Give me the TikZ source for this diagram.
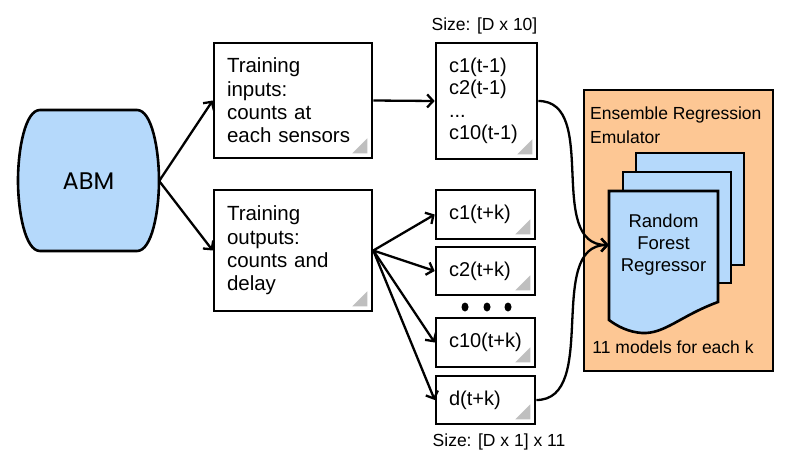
\documentclass[tikz,border=0pt]{standalone}
\usepackage{fontspec}
\setmainfont{Liberation Sans}
\newfontfamily\abmfont{Poppins}
\usetikzlibrary{arrows.meta,calc}
\definecolor{abmblue}{HTML}{B5D9FB}
\definecolor{emupeach}{HTML}{FDC794}
\definecolor{eargray}{HTML}{BFBFBF}
\tikzset{
  box/.style={draw, line width=2.6pt, fill=white, inner xsep=13pt, inner ysep=0pt, align=left},
  doc/.style={draw, line width=2.6pt, fill=abmblue, line join=miter},
  conn/.style={line width=2.3pt, -{Straight Barb[length=6pt,width=13pt]}},
  small/.style={font=\fontsize{17.5}{24}\selectfont},
}
\newcommand\dogear[1]{\fill[eargray] ($(#1.south east)+(-6,-6)$) -- ++(-15,0) -- ++(15,-15) -- cycle;}
\begin{document}
\begin{tikzpicture}[yscale=-1, x=1pt, y=1pt]
  \useasboundingbox (0,0) rectangle (792,467);
  \draw[doc] (40,110) -- (137,110) .. controls (152,110) and (159,150) .. (159,180.5)
    .. controls (159,211) and (152,251) .. (137,251) -- (40,251)
    .. controls (25,251) and (18,211) .. (18,180.5) .. controls (18,150) and (25,110) .. (40,110) -- cycle;
  \node[minimum width=141pt, minimum height=141pt, font=\abmfont\fontsize{24}{24}\selectfont] (abm) at (88.5,181) {ABM};
  \node[box, minimum width=158pt, minimum height=115pt, text width=132pt, font=\fontsize{20.5}{23.3}\selectfont] (inputs) at (293,100.5) {Training\\inputs:\\counts at\\each sensors};
  \node[box, minimum width=158pt, minimum height=121pt, text width=132pt, font=\fontsize{20.5}{23.3}\selectfont] (outputs) at (293,250.5) {Training\\outputs:\\counts and\\delay};
  \node[small] (sizein) at (484.5,26) {Size: [D x 10]};
  \node[box, minimum width=101pt, minimum height=116pt, text width=75pt, font=\fontsize{20}{22.5}\selectfont] (cin) at (486.5,101) {c1(t-1)\\c2(t-1)\\...\\c10(t-1)};
  \node[box, minimum width=99pt, minimum height=49pt, text width=73pt, font=\fontsize{20}{22.5}\selectfont] (c1) at (485.5,214.5) {c1(t+k)};
  \node[box, minimum width=99pt, minimum height=48pt, text width=73pt, font=\fontsize{20}{22.5}\selectfont] (c2) at (485.5,271) {c2(t+k)};
  \node[box, minimum width=99pt, minimum height=49pt, text width=73pt, font=\fontsize{20}{22.5}\selectfont] (c10) at (485.5,342.5) {c10(t+k)};
  \node[box, minimum width=99pt, minimum height=48pt, text width=73pt, font=\fontsize{20}{22.5}\selectfont] (d) at (485.5,400) {d(t+k)};
  \node[small] (sizeout) at (499,442) {Size: [D x 1] x 11};
  \foreach \x in {465,487,508} \fill (\x,307) ellipse (3.5 and 4.5);
  \foreach \n in {inputs,outputs,cin,c1,c2,c10,d} \dogear{\n};
  \draw[line width=2.6pt, fill=emupeach] (584,90) rectangle (773,371);
  \node[small, anchor=west, align=left, inner sep=0pt] (emu) at (590,125) {Ensemble Regression\\Emulator};
  \draw[doc] (636,153) rectangle (744,265);
  \draw[doc] (623,172) rectangle (731,283);
  \draw[doc] (609,191) -- (718,191) -- (718,302) .. controls (680,316) and (665,334) .. (642,333)
    .. controls (628,332) and (617,326) .. (609,320) -- cycle;
  \node[align=center, minimum width=109pt, inner sep=0pt, font=\fontsize{18.5}{22}\selectfont] (rf) at (663.5,245) {Random\\Forest\\Regressor};
  \node[small] (models) at (673,347) {11 models for each k};
  \draw[conn] (abm.east) -- (inputs.west);
  \draw[conn] (abm.east) -- (outputs.west);
  \draw[conn] (inputs.east) -- (cin.west);
  \foreach \n in {c1,c2,c10,d} \draw[conn] (outputs.east) -- (\n.west);
  \draw[conn] (cin.east) .. controls (600,101) and (545,245) .. (rf.west);
  \draw[conn] (d.east) .. controls (600,400) and (545,245) .. (rf.west);
\end{tikzpicture}
\end{document}
